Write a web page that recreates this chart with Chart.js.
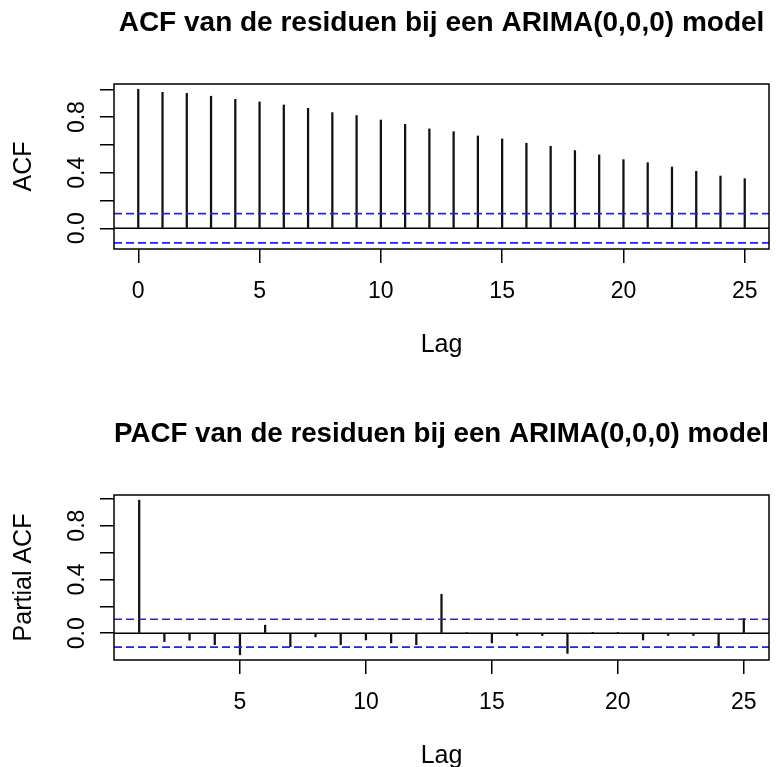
<!DOCTYPE html>
<html>
<head>
<meta charset="utf-8">
<script src="https://cdn.jsdelivr.net/npm/chart.js@4.4.1/dist/chart.umd.min.js"></script>
<style>
  html, body { margin: 0; padding: 0; background: #fff; overflow: hidden; }
  #wrap { width: 778px; height: 767px; overflow: hidden; }
  canvas { display: block; }
</style>
</head>
<body>
<div id="wrap">
  <canvas id="acfChart" width="778" height="411"></canvas>
  <canvas id="pacfChart" width="778" height="411"></canvas>
</div>
<script>
// ACF of the residuals, lags 0..25
var acfLags = [0, 1, 2, 3, 4, 5, 6, 7, 8, 9, 10, 11, 12, 13, 14, 15, 16, 17, 18, 19, 20, 21, 22, 23, 24, 25];
var acfValues = [1.0, 0.978, 0.971, 0.950, 0.928, 0.909, 0.887, 0.863, 0.832, 0.811, 0.779, 0.748, 0.715,
                 0.695, 0.664, 0.643, 0.612, 0.590, 0.559, 0.528, 0.494, 0.472, 0.441, 0.410, 0.376, 0.357];
// PACF of the residuals, lags 1..25
var pacfLags = [1, 2, 3, 4, 5, 6, 7, 8, 9, 10, 11, 12, 13, 14, 15, 16, 17, 18, 19, 20, 21, 22, 23, 24, 25];
var pacfValues = [0.99, -0.062, -0.052, -0.085, -0.16, 0.06, -0.10, -0.027, -0.085, -0.05, -0.072, -0.085, 0.29,
                  0.005, -0.072, -0.017, -0.017, -0.15, 0.004, 0.003, -0.05, -0.017, -0.017, -0.097, 0.11];
// confidence bounds (blue dashed)
var acfBound = 0.105;
var pacfBound = 0.104;
// tick labels
var acfXTicks = [0, 5, 10, 15, 20, 25];
var pacfXTicks = [5, 10, 15, 20, 25];
var yTicks = [0, 0.2, 0.4, 0.6, 0.8, 1.0];
var yTickLabels = ['0.0', '', '0.4', '', '0.8', ''];

var fam = '"Liberation Sans", Arial, Helvetica, sans-serif';

// R-style box around the plot + rotated y tick labels
var rFrame = {
    id: 'rFrame',
    afterDraw: function(chart) {
        var a = chart.chartArea, ctx = chart.ctx, ys = chart.scales.y;
        ctx.save();
        ctx.strokeStyle = '#000';
        ctx.lineWidth = 1.5;
        ctx.strokeRect(a.left, a.top, a.right - a.left, a.bottom - a.top);
        ctx.fillStyle = '#000';
        ctx.font = '23px ' + fam;
        ctx.textAlign = 'center';
        ctx.textBaseline = 'middle';
        yTicks.forEach(function(v, i) {
            if (!yTickLabels[i]) return;
            ctx.save();
            ctx.translate(78, ys.getPixelForValue(v));
            ctx.rotate(-Math.PI / 2);
            ctx.fillText(yTickLabels[i], 0, 0);
            ctx.restore();
        });
        ctx.restore();
    }
};

function makeChart(id, title, yTitle, lags, values, bound, xMin, xMax, yMin, yMax, xTicks) {
    var tickGrid = { offset: false, drawOnChartArea: false, drawTicks: true, tickLength: 14, color: '#000', lineWidth: 1.5 };
    return new Chart(document.getElementById(id).getContext('2d'), {
        type: 'bar',
        data: {
            datasets: [{
                type: 'bar',
                data: lags.map(function(l, i) { return { x: l, y: values[i] }; }),
                backgroundColor: '#111',
                barThickness: 1.6,
                order: 3
            }, {
                type: 'line',
                data: [{ x: xMin, y: 0 }, { x: xMax, y: 0 }],
                borderColor: '#000',
                borderWidth: 1.5,
                pointRadius: 0,
                order: 2
            }, {
                type: 'line',
                data: [{ x: xMin, y: bound }, { x: xMax, y: bound }],
                borderColor: '#1f1fff',
                borderWidth: 1.7,
                borderDash: [8, 4],
                pointRadius: 0,
                order: 1
            }, {
                type: 'line',
                data: [{ x: xMin, y: -bound }, { x: xMax, y: -bound }],
                borderColor: '#1f1fff',
                borderWidth: 1.7,
                borderDash: [8, 4],
                pointRadius: 0,
                order: 1
            }]
        },
        options: {
            responsive: false,
            animation: false,
            events: [],
            layout: { padding: { left: 0, right: 9, top: 0, bottom: 0 } },
            plugins: {
                legend: { display: false },
                tooltip: { enabled: false },
                title: {
                    display: true,
                    text: title,
                    fullSize: false,
                    color: '#000',
                    font: { size: 28, weight: 'bold', family: fam },
                    padding: { top: 6, bottom: 44.4 }
                }
            },
            scales: {
                x: {
                    type: 'linear',
                    min: xMin,
                    max: xMax,
                    offset: false,
                    afterBuildTicks: function(s) { s.ticks = xTicks.map(function(v) { return { value: v }; }); },
                    afterFit: function(s) { s.height = 162; },
                    grid: tickGrid,
                    border: { display: false },
                    ticks: {
                        color: '#000',
                        font: { size: 23, family: fam },
                        padding: 15,
                        maxRotation: 0,
                        autoSkip: false,
                        callback: function(v) { return String(v); }
                    },
                    title: {
                        display: true,
                        text: 'Lag',
                        color: '#000',
                        font: { size: 25, family: fam },
                        padding: { top: 0, bottom: 51 }
                    }
                },
                y: {
                    min: yMin,
                    max: yMax,
                    afterBuildTicks: function(s) { s.ticks = yTicks.map(function(v) { return { value: v }; }); },
                    afterFit: function(s) { s.width = 114; },
                    grid: tickGrid,
                    border: { display: false },
                    ticks: { display: false },
                    title: {
                        display: true,
                        text: yTitle,
                        color: '#000',
                        font: { size: 25, family: fam },
                        padding: { top: 9, bottom: 0 }
                    }
                }
            }
        },
        plugins: [rFrame]
    });
}

makeChart('acfChart', 'ACF van de residuen bij een ARIMA(0,0,0) model', 'ACF',
          acfLags, acfValues, acfBound, -1, 26, -0.149, 1.038, acfXTicks);
makeChart('pacfChart', 'PACF van de residuen bij een ARIMA(0,0,0) model', 'Partial ACF',
          pacfLags, pacfValues, pacfBound, 0, 26, -0.199, 1.028, pacfXTicks);
</script>
</body>
</html>
